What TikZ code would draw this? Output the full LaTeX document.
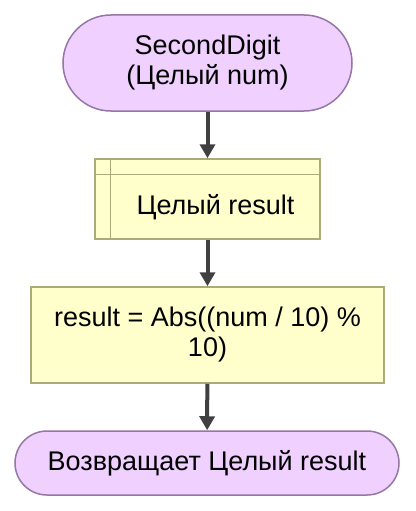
\documentclass[tikz,border=0pt]{standalone}
\usepackage{fontspec}
\setmainfont{Liberation Sans}
\usetikzlibrary{arrows.meta}
\definecolor{termfill}{RGB}{240,208,255}
\definecolor{termdraw}{RGB}{150,118,162}
\definecolor{boxfill}{RGB}{255,255,204}
\definecolor{boxdraw}{RGB}{170,170,122}
\definecolor{flowline}{RGB}{64,64,64}
\tikzset{
    term/.style={draw=termdraw,fill=termfill,line width=1.5pt,align=center,inner sep=0pt},
    procbox/.style={draw=boxdraw,fill=boxfill,line width=1.5pt,align=center,inner sep=0pt},
    flow/.style={-{Triangle[length=14pt,width=15pt]},line width=4pt,draw=flowline}
}
\begin{document}
\begin{tikzpicture}[x=1pt,y=-1pt,font=\fontsize{27}{30}\selectfont]
        \useasboundingbox(0,0)rectangle(415,511);
        \node[term,minimum width=289pt,minimum height=96pt,rounded corners=48pt](start)at(207.5,63){SecondDigit\\(Целый num)};
        \node[procbox,minimum width=225pt,minimum height=80pt](decl)at(207.5,199){};
        \draw[boxdraw,line width=1.5pt]([xshift=16pt]decl.north west)--([xshift=16pt]decl.south west);
        \draw[boxdraw,line width=1.5pt]([yshift=-16pt]decl.north west)--([yshift=-16pt]decl.north east);
        \node(decltext)at(215.5,207){Целый result};
        \node[procbox,minimum width=353pt,minimum height=96pt](assign)at(207.5,335){result = Abs((num / 10) \%\\10)};
        \node[term,minimum width=384pt,minimum height=64pt,rounded corners=32pt](stop)at(207,463){Возвращает Целый result};

        \draw[flow](start)--(decl);
        \draw[flow](decl)--(assign);
        \draw[flow](assign)--(stop);
    \end{tikzpicture}
\end{document}
